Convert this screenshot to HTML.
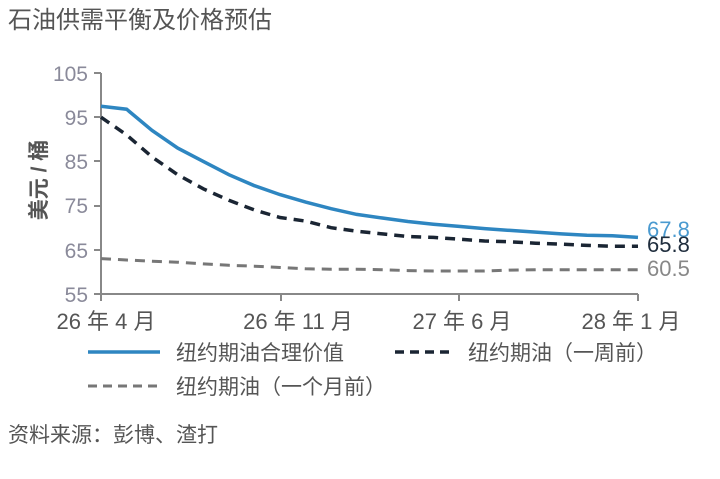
<!DOCTYPE html>
<html><head><meta charset="utf-8"><style>
body{margin:0;background:#fff;width:720px;height:474px;overflow:hidden}
text{font-family:"Liberation Sans","Noto Sans CJK SC",sans-serif}
</style></head><body>
<svg id="s" width="720" height="474" xmlns="http://www.w3.org/2000/svg">
<text x="8" y="28" font-size="24" fill="#555">石油供需平衡及价格预估</text>
<g font-size="21" fill="#8a8a9a" text-anchor="end">
<text x="88" y="81">105</text><text x="88" y="125">95</text><text x="88" y="169">85</text>
<text x="88" y="213">75</text><text x="88" y="258">65</text><text x="88" y="302">55</text>
</g>
<text transform="translate(46,180) rotate(-90)" font-size="21" font-weight="bold" fill="#555" text-anchor="middle">美元 / 桶</text>
<g stroke="#888" stroke-width="2" fill="none">
<line x1="101" y1="73" x2="101" y2="294"/><line x1="101" y1="294" x2="638" y2="294"/>
<line x1="94" y1="73" x2="101" y2="73"/><line x1="94" y1="117" x2="101" y2="117"/><line x1="94" y1="161" x2="101" y2="161"/>
<line x1="94" y1="206" x2="101" y2="206"/><line x1="94" y1="250" x2="101" y2="250"/><line x1="94" y1="294" x2="101" y2="294"/>
<line x1="101" y1="294" x2="101" y2="301"/><line x1="281" y1="294" x2="281" y2="301"/><line x1="459" y1="294" x2="459" y2="301"/><line x1="638" y1="294" x2="638" y2="301"/>
</g>
<g font-size="22" fill="#555" text-anchor="middle">
<text x="106" y="329">26 年 4 月</text><text x="298" y="329">26 年 11 月</text>
<text x="462" y="329">27 年 6 月</text><text x="631" y="329">28 年 1 月</text>
</g>
<g id="lines"></g>
<text x="647" y="237" font-size="22" fill="#4a9ad0">67.8</text>
<text x="647" y="252" font-size="22" fill="#1f2d3d">65.8</text>
<text x="647" y="276" font-size="22" fill="#888">60.5</text>
<line x1="88" y1="352" x2="160" y2="352" stroke="#2e86c1" stroke-width="3.5"/>
<text x="176" y="360" font-size="21" fill="#555">纽约期油合理价值</text>
<line x1="395" y1="352" x2="450" y2="352" stroke="#1a2533" stroke-width="3.5" stroke-dasharray="9,6"/>
<text x="468" y="360" font-size="21" fill="#555">纽约期油（一周前）</text>
<line x1="88" y1="386" x2="160" y2="386" stroke="#777" stroke-width="3" stroke-dasharray="9,6"/>
<text x="176" y="394" font-size="21" fill="#555">纽约期油（一个月前）</text>
<text x="8" y="442" font-size="21" fill="#555">资料来源：彭博、渣打</text>
</svg>
<script>
var b=[97.5,96.8,92,88,85,82,79.5,77.5,75.8,74.3,73,72.2,71.4,70.8,70.3,69.8,69.4,69,68.6,68.3,68.2,67.8];
var d=[95,91,86,82,78.8,76.2,74,72.3,71.5,70,69.2,68.6,68,67.8,67.4,67,66.8,66.5,66.3,66,65.8,65.8];
var g=[63,62.7,62.4,62.2,61.8,61.5,61.3,61,60.7,60.6,60.6,60.5,60.3,60.2,60.2,60.2,60.4,60.5,60.5,60.5,60.5,60.5];
function p(a){return a.map(function(v,i){return (101+i*537/21).toFixed(1)+','+(294-(v-55)*4.42).toFixed(1)}).join(' ')}
document.getElementById('lines').innerHTML=
'<polyline points="'+p(g)+'" fill="none" stroke="#777" stroke-width="3" stroke-dasharray="10,7"/>'+
'<polyline points="'+p(d)+'" fill="none" stroke="#1a2533" stroke-width="3.5" stroke-dasharray="10,7"/>'+
'<polyline points="'+p(b)+'" fill="none" stroke="#2e86c1" stroke-width="3.5"/>';
</script>
</body></html>
